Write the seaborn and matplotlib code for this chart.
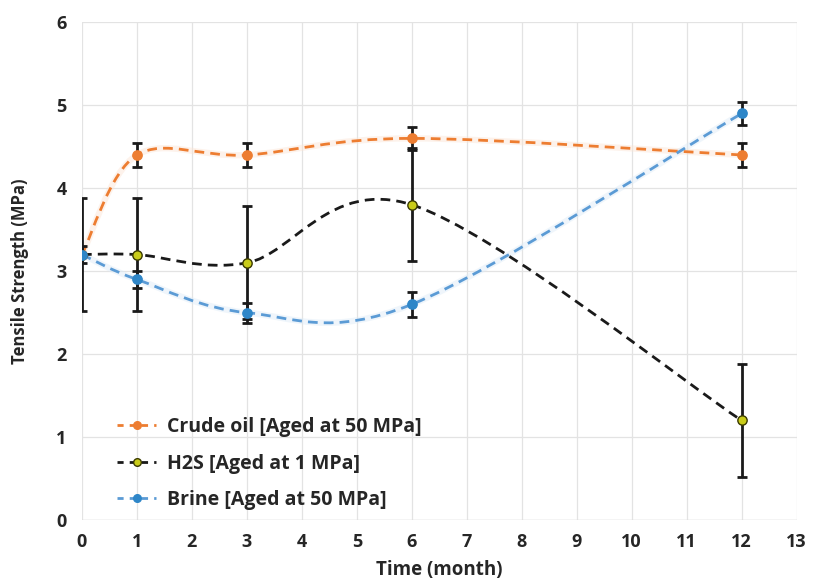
import numpy as np
import pandas as pd
import matplotlib
matplotlib.use("Agg")
import matplotlib.pyplot as plt
from matplotlib.path import Path
from matplotlib.patches import PathPatch
from matplotlib.lines import Line2D
import seaborn as sns

# ---- data ----
months = [0, 1, 3, 6, 12]
crude_oil = [3.2, 4.4, 4.4, 4.6, 4.4]
crude_err = [0.0, 0.14, 0.14, 0.14, 0.14]
h2s = [3.2, 3.2, 3.1, 3.8, 1.2]
h2s_err = [0.68, 0.68, 0.68, 0.68, 0.68]
brine = [3.2, 2.9, 2.5, 2.6, 4.9]
brine_err = [0.1, 0.1, 0.12, 0.15, 0.14]
labels = ["Crude oil [Aged at 50 MPa]", "H2S [Aged at 1 MPa]", "Brine [Aged at 50 MPa]"]
x_ticks = list(range(0, 14))
y_ticks = list(range(0, 7))

line_colors = ["#ED7D31", "#1a1a1a", "#5B9BD5"]
marker_face = ["#ED7D31", "#C9CC1A", "#2E86C8"]
marker_edge = ["#ED7D31", "#3a3a00", "#2E86C8"]
glow_colors = ["#FBE3D3", None, "#DCEBF7"]

sns.set_theme(style="whitegrid")
plt.rcParams['font.family'] = ['Open Sans', 'DejaVu Sans']
plt.rcParams['font.weight'] = 'bold'

fig = plt.figure(figsize=(8.14, 5.85), dpi=100)
ax = fig.add_axes([0.1007, 0.111, 0.878, 0.851])


def smooth_path(xs, ys):
    """Excel-style smoothed line as cubic Bezier segments through data points."""
    pts = np.column_stack([xs, ys]).astype(float)
    n = len(pts)
    verts = [pts[0]]
    codes = [Path.MOVETO]
    for i in range(n - 1):
        p_prev = pts[i - 1] if i > 0 else pts[i]
        p0, p1 = pts[i], pts[i + 1]
        p_next = pts[i + 2] if i + 2 < n else pts[i + 1]
        c1 = p0 + (p1 - p_prev) / 6.0
        c2 = p1 - (p_next - p0) / 6.0
        verts += [c1, c2, p1]
        codes += [Path.CURVE4] * 3
    return Path(verts, codes)


series = [crude_oil, h2s, brine]
errs = [crude_err, h2s_err, brine_err]
rows = []
for lab, ys in zip(labels, series):
    for m, v in zip(months, ys):
        rows.append({"month": m, "value": v, "series": lab})
df = pd.DataFrame(rows)

for ys, col, gc in zip(series, line_colors, glow_colors):
    if gc is not None:
        ax.add_patch(PathPatch(smooth_path(months, ys), facecolor="none", edgecolor=gc,
                               lw=4.5, alpha=0.45, zorder=2))
    patch = PathPatch(smooth_path(months, ys), facecolor="none", edgecolor=col,
                      lw=2.0, linestyle=(0, (3.5, 2.2)), zorder=3)
    ax.add_patch(patch)

for ys, er in zip(series, errs):
    ax.errorbar(months, ys, yerr=er, fmt="none", ecolor="#1a1a1a", elinewidth=2,
                capsize=3.5, capthick=2, zorder=4)

for lab, fc, ec in zip(labels, marker_face, marker_edge):
    sns.scatterplot(data=df[df["series"] == lab], x="month", y="value", ax=ax,
                    color=fc, edgecolor=ec, linewidth=1.0, s=45, zorder=5, legend=False)

ax.set_xlim(0, 13)
ax.set_ylim(0, 6)
ax.set_xticks(x_ticks)
ax.set_yticks(y_ticks)
ax.tick_params(axis="x", labelsize=13, pad=9, length=0)
ax.tick_params(axis="y", labelsize=13, pad=11, length=0)
for t in ax.get_xticklabels() + ax.get_yticklabels():
    t.set_fontweight("bold")
ax.grid(True, color="#e3e3e3", linewidth=0.9)
for s in ax.spines.values():
    s.set_visible(False)
ax.axhline(0, color="#d9d9d9", lw=1.0, zorder=1)
ax.set_xlabel("Time (month)", fontsize=13.5, fontweight="bold", labelpad=7)
ax.set_ylabel("Tensile Strength (MPa)", fontsize=12, fontweight="bold", labelpad=20)

handles = [Line2D([0], [0], color=lc, lw=2, linestyle=(0, (2.2, 2.2)), marker="o",
                  markerfacecolor=fc, markeredgecolor=ec, markersize=5.5)
           for lc, fc, ec in zip(line_colors, marker_face, marker_edge)]
leg = ax.legend(handles, labels, loc="lower left", bbox_to_anchor=(0.025, -0.015),
                frameon=False, handlelength=2.0, labelspacing=0.85, handletextpad=0.55,
                prop={"weight": "bold", "size": 14})

fig.savefig("out.png", dpi=100)
